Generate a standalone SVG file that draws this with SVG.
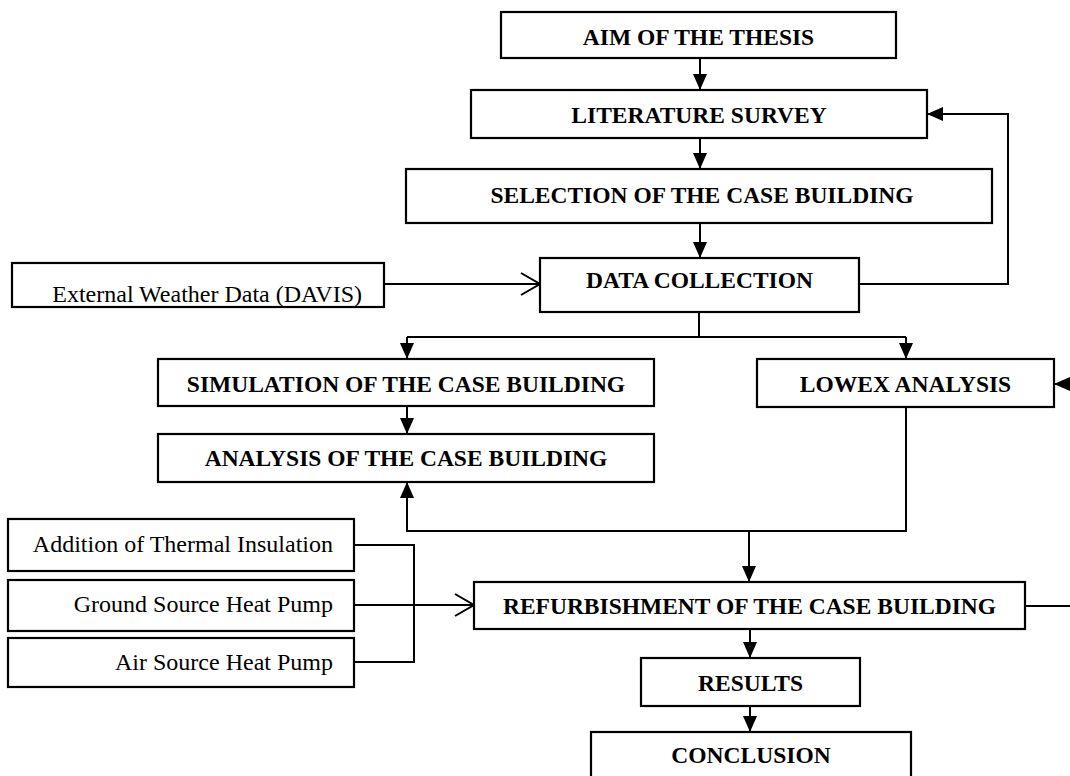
<svg xmlns="http://www.w3.org/2000/svg" width="1070" height="776" viewBox="0 0 1070 776">
<defs>
<marker id="fa" markerUnits="userSpaceOnUse" markerWidth="16" markerHeight="14" refX="16" refY="7" orient="auto" overflow="visible">
<path d="M0,0 L16,7 L0,14 z" fill="#000"/>
</marker>
<marker id="oa" markerUnits="userSpaceOnUse" markerWidth="20" markerHeight="24" refX="19" refY="11" orient="auto" overflow="visible">
<path d="M0,0 L19,11 L0,22" fill="none" stroke="#000" stroke-width="2"/>
</marker>
</defs>
<style>
.box{fill:#fff;stroke:#000;stroke-width:2.2}
.t{font-family:"Liberation Serif","Times New Roman",serif;font-weight:bold;font-size:23.5px;text-anchor:middle;fill:#000}
.r{font-family:"Liberation Serif","Times New Roman",serif;font-size:24px;text-anchor:end;fill:#000}
.c{fill:none;stroke:#000;stroke-width:2}
</style>
<rect width="1070" height="776" fill="#fff"/>
<g id="connectors">
<path class="c" d="M700,58 V90" marker-end="url(#fa)"/>
<path class="c" d="M700,138 V169" marker-end="url(#fa)"/>
<path class="c" d="M700,223 V258" marker-end="url(#fa)"/>
<path class="c" d="M384,284 H540" marker-end="url(#oa)"/>
<path class="c" d="M859,284 H1008 V114 H927" marker-end="url(#fa)"/>
<path class="c" d="M699,312 V337"/>
<path class="c" d="M407,337 H906"/>
<path class="c" d="M407,337 V359" marker-end="url(#fa)"/>
<path class="c" d="M906,337 V359" marker-end="url(#fa)"/>
<path class="c" d="M407,406 V434" marker-end="url(#fa)"/>
<path class="c" d="M906,407 V531 H407 V482" marker-end="url(#fa)"/>
<path class="c" d="M749,531 V582" marker-end="url(#fa)"/>
<path class="c" d="M354,545 H414 V662 H354"/>
<path class="c" d="M354,605 H474" marker-end="url(#oa)"/>
<path class="c" d="M1025,606 H1072"/>
<path class="c" d="M1076,384 H1054" marker-end="url(#fa)"/>
<path class="c" d="M750,629 V658" marker-end="url(#fa)"/>
<path class="c" d="M750,706 V732" marker-end="url(#fa)"/>
</g>
<g id="aim"><rect class="box" x="501" y="12" width="395" height="46"/><text class="t" x="698.5" y="45">AIM OF THE THESIS</text></g>
<g id="literature"><rect class="box" x="471" y="90" width="456" height="48"/><text class="t" x="699" y="123">LITERATURE SURVEY</text></g>
<g id="selection"><rect class="box" x="406" y="169" width="586" height="54"/><text class="t" x="702" y="203">SELECTION OF THE CASE BUILDING</text></g>
<g id="weather"><rect class="box" x="12" y="263" width="372" height="44"/><text class="r" x="362" y="302">External Weather Data (DAVIS)</text></g>
<g id="data"><rect class="box" x="540" y="258" width="319" height="54"/><text class="t" x="699.5" y="288">DATA COLLECTION</text></g>
<g id="simulation"><rect class="box" x="158" y="359" width="496" height="47"/><text class="t" x="406" y="392">SIMULATION OF THE CASE BUILDING</text></g>
<g id="analysis"><rect class="box" x="158" y="434" width="496" height="48"/><text class="t" x="406" y="466">ANALYSIS OF THE CASE BUILDING</text></g>
<g id="lowex"><rect class="box" x="757" y="359" width="297" height="48"/><text class="t" x="905.5" y="392">LOWEX ANALYSIS</text></g>
<g id="insulation"><rect class="box" x="8" y="519" width="346" height="52"/><text class="r" x="333" y="552">Addition of Thermal Insulation</text></g>
<g id="gshp"><rect class="box" x="8" y="580" width="346" height="51"/><text class="r" x="333" y="612">Ground Source Heat Pump</text></g>
<g id="ashp"><rect class="box" x="8" y="638" width="346" height="49"/><text class="r" x="333" y="670">Air Source Heat Pump</text></g>
<g id="refurbishment"><rect class="box" x="474" y="582" width="551" height="47"/><text class="t" x="749.5" y="614">REFURBISHMENT OF THE CASE BUILDING</text></g>
<g id="results"><rect class="box" x="641" y="658" width="219" height="48"/><text class="t" x="750.5" y="691">RESULTS</text></g>
<g id="conclusion"><rect class="box" x="591" y="732" width="320" height="60"/><text class="t" x="751" y="763">CONCLUSION</text></g>
</svg>
